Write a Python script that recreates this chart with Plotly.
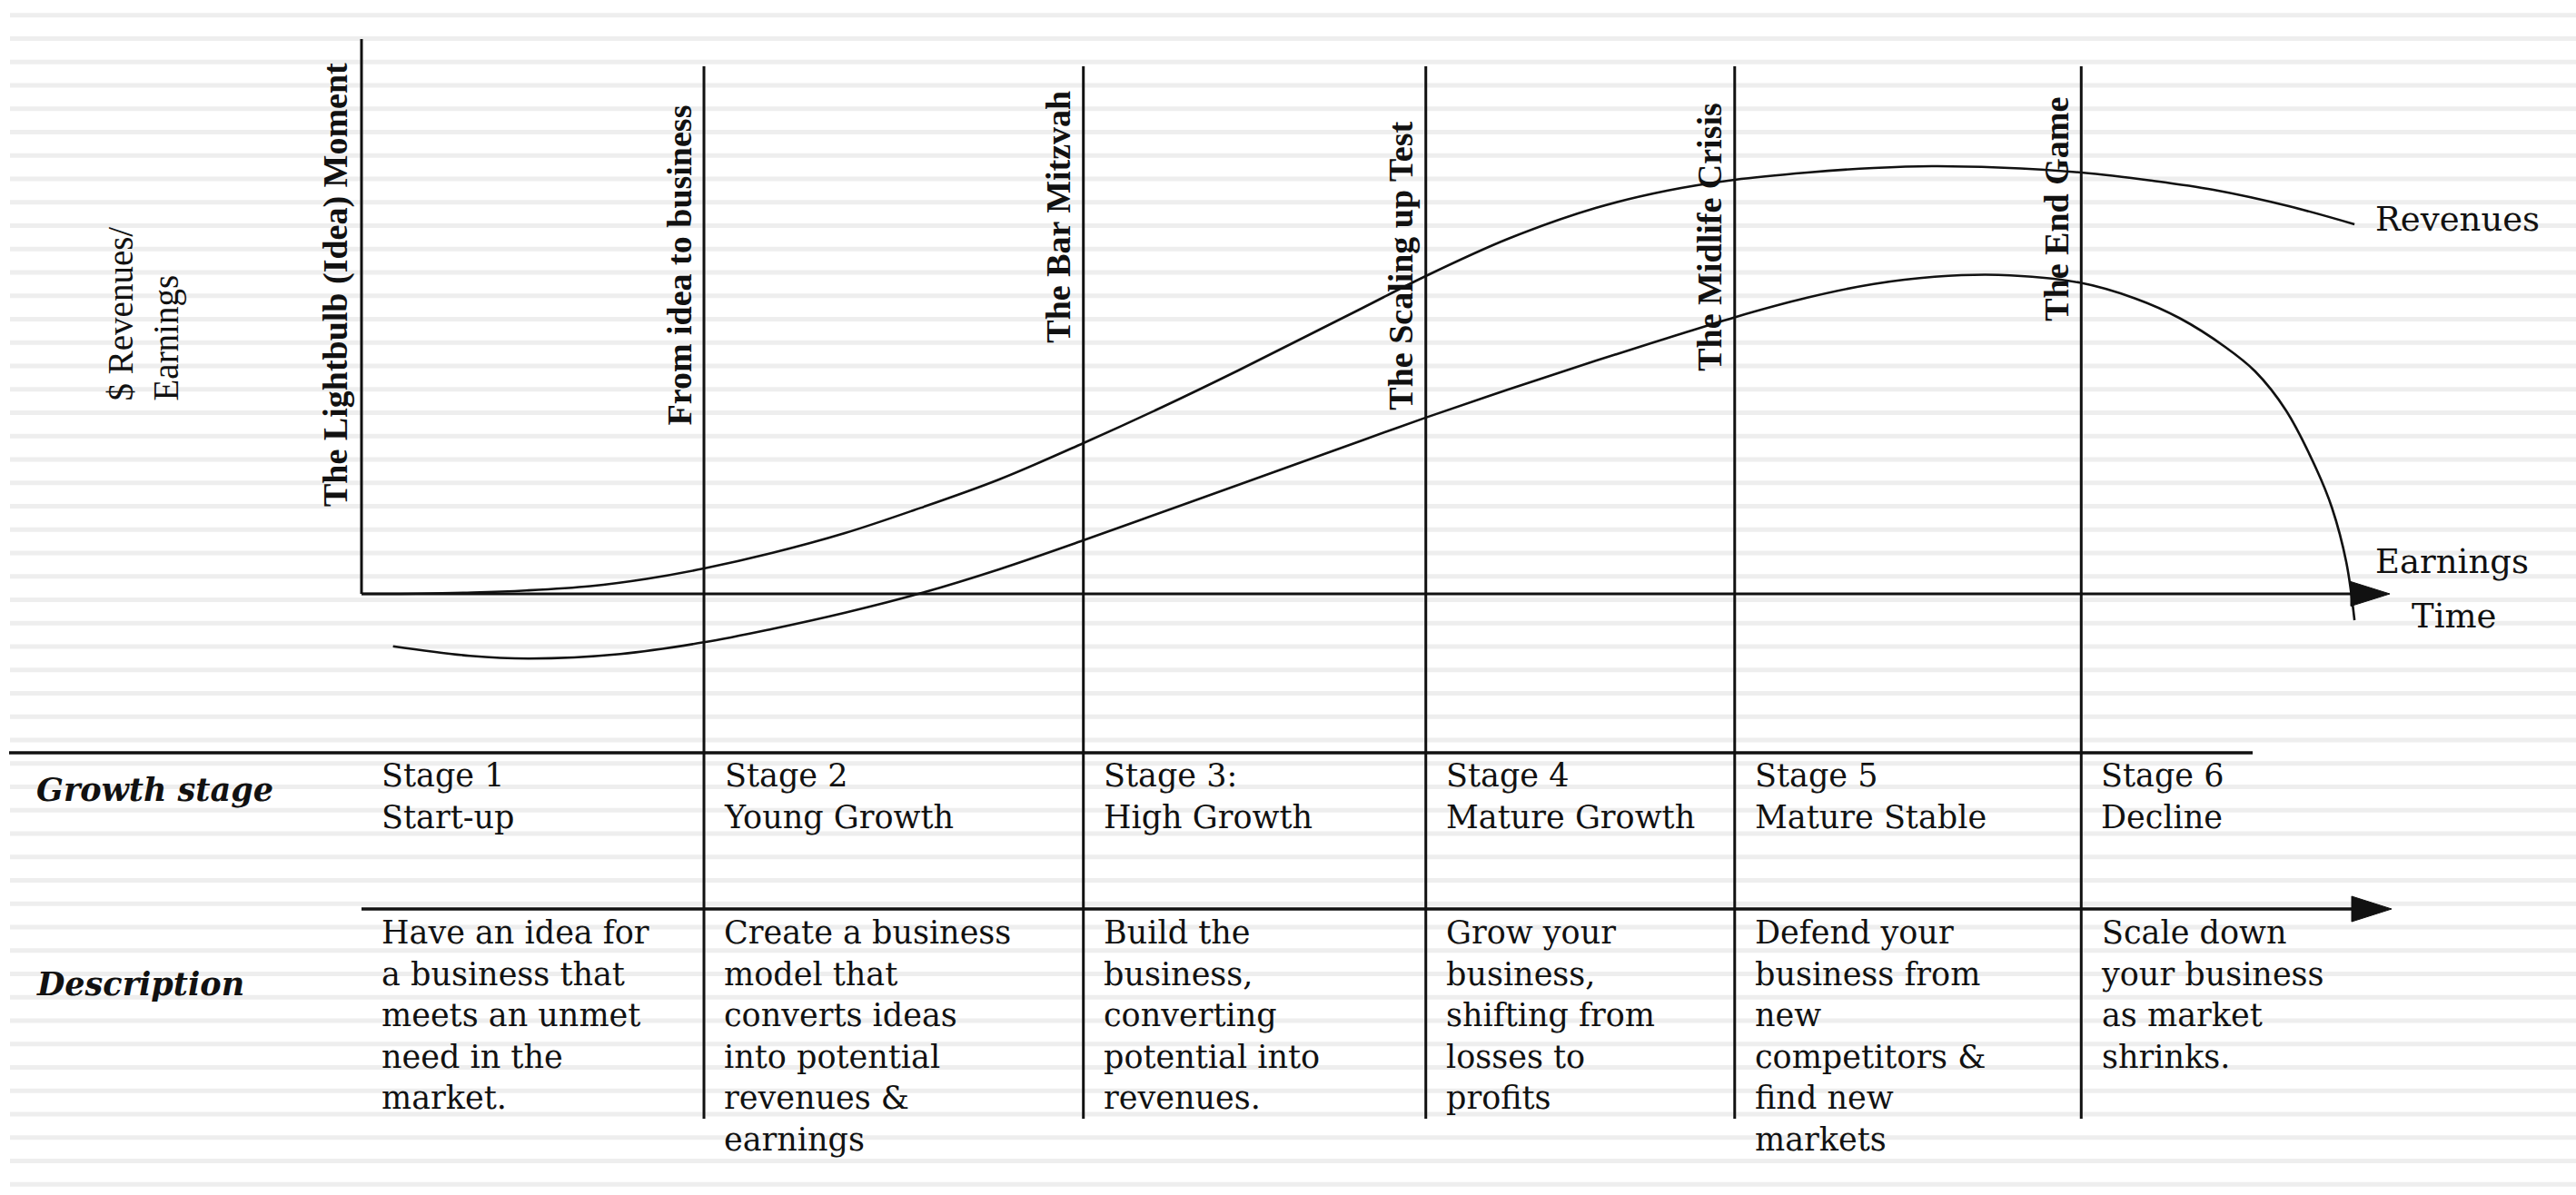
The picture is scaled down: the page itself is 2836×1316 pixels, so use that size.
import plotly.graph_objects as go

# ---------------- data ----------------
milestones = ["The Lightbulb (Idea) Moment", "From idea to business", "The Bar Mitzvah",
              "The Scaling up Test", "The Midlife Crisis", "The End Game"]
stage_bounds = [0, 5.0, 10.54, 15.54, 20.05, 25.11]   # time at which each stage starts

stage_names = ["Stage 1<br>Start-up", "Stage 2<br>Young Growth", "Stage 3:<br>High Growth",
               "Stage 4<br>Mature Growth", "Stage 5<br>Mature Stable", "Stage 6<br>Decline"]
descriptions = [
    "Have an idea for<br>a business that<br>meets an unmet<br>need in the<br>market.",
    "Create a business<br>model that<br>converts ideas<br>into potential<br>revenues &<br>earnings",
    "Build the<br>business,<br>converting<br>potential into<br>revenues.",
    "Grow your<br>business,<br>shifting from<br>losses to<br>profits",
    "Defend your<br>business from<br>new<br>competitors &<br>find new<br>markets",
    "Scale down<br>your business<br>as market<br>shrinks.",
]

time_rev = [0, 0.81, 1.62, 2.41, 3.34, 4.16, 5.00, 5.99, 7.06, 8.06, 9.31, 10.54, 11.70,
            12.80, 13.75, 14.62, 15.54, 16.74, 18.02, 19.06, 20.05, 21.11, 22.08, 22.93,
            23.90, 25.11, 26.15, 27.04, 28.14, 29.10]
revenues = [0, 0.06, 0.30, 0.80, 1.80, 3.49, 5.92, 9.51, 14.16, 19.45, 26.64, 35.10, 43.55,
            52.01, 59.62, 66.60, 74.00, 82.66, 89.85, 93.87, 96.41, 98.10, 99.15, 99.58,
            99.26, 98.10, 96.19, 94.08, 90.27, 86.05]

time_earn = [0.46, 1.58, 2.45, 3.78, 5.00, 5.99, 7.06, 8.13, 9.31, 10.54, 11.96, 13.29,
             14.62, 15.54, 16.74, 18.02, 19.06, 20.05, 21.11, 22.08, 22.97, 23.90, 25.09,
             25.89, 26.55, 27.21, 27.65, 28.10, 28.54, 28.77, 28.98, 29.10]
earnings = [-12.20, -14.42, -15.05, -14.00, -11.27, -8.18, -4.38, 0, 5.73, 12.47, 20.57,
            28.18, 35.79, 41.04, 47.55, 54.27, 59.51, 64.40, 68.96, 72.14, 73.83, 74.27,
            72.45, 68.82, 64.16, 57.51, 51.80, 42.71, 29.18, 20.08, 7.40, -6.13]

# ---------------- layout helpers ----------------
W, H = 2836, 1316
X0_PX, PX_PER_T = 398, 75.4
Y0_PX, PX_PER_V = 654, 4.73


def tx(px):
    return (px - X0_PX) / PX_PER_T


def vy(py):
    return (Y0_PX - py) / PX_PER_V


INK = "#111111"
SERIF_WIDE = "DejaVu Serif"
SERIF = "Liberation Serif"

fig = go.Figure()

fig.add_trace(go.Scatter(x=time_rev, y=revenues, mode="lines",
                         line=dict(color=INK, width=2.6, shape="spline", smoothing=1.0),
                         hoverinfo="skip", showlegend=False))
fig.add_trace(go.Scatter(x=time_earn, y=earnings, mode="lines",
                         line=dict(color=INK, width=2.6, shape="spline", smoothing=1.0),
                         hoverinfo="skip", showlegend=False))

shapes = []

# background ruled stripes
stripe_path = ""
yy = 16.7
while yy < H:
    py = 1 - yy / H
    stripe_path += f"M{11 / W},{py} L1,{py} "
    yy += 25.75
shapes.append(dict(type="path", xref="paper", yref="paper", path=stripe_path,
                   line=dict(color="#eeeeee", width=5), layer="below"))

# y-axis
shapes.append(dict(type="line", xref="x", yref="y", x0=0, x1=0, y0=0, y1=vy(43),
                   line=dict(color=INK, width=3)))
# stage boundary lines
for b in stage_bounds[1:]:
    shapes.append(dict(type="line", xref="x", yref="y", x0=b, x1=b, y0=vy(73), y1=vy(1232),
                       line=dict(color=INK, width=3)))
# time axis
shapes.append(dict(type="line", xref="x", yref="y", x0=0, x1=tx(2600), y0=0, y1=0,
                   line=dict(color=INK, width=3)))
shapes.append(dict(type="path", xref="x", yref="y", xsizemode="pixel", ysizemode="pixel",
                   xanchor=tx(2631), yanchor=0, path="M0,0 L-43,13.5 L-43,-13.5 Z",
                   fillcolor=INK, line=dict(color=INK, width=1)))
# table lines
shapes.append(dict(type="line", xref="x", yref="y", x0=tx(10), x1=tx(2480), y0=vy(829), y1=vy(829),
                   line=dict(color=INK, width=3.5)))
shapes.append(dict(type="line", xref="x", yref="y", x0=0, x1=tx(2600), y0=vy(1001), y1=vy(1001),
                   line=dict(color=INK, width=3.5)))
shapes.append(dict(type="path", xref="x", yref="y", xsizemode="pixel", ysizemode="pixel",
                   xanchor=tx(2633), yanchor=vy(1001), path="M0,0 L-44,14 L-44,-14 Z",
                   fillcolor=INK, line=dict(color=INK, width=1)))

annotations = []

# milestone (rotated) labels
label_bottom_px = [560, 471, 380, 454, 411, 356]
for name, b, bot in zip(milestones, stage_bounds, label_bottom_px):
    annotations.append(dict(text=name, x=b, y=vy(bot), xref="x", yref="y", xanchor="right",
                            yanchor="bottom", xshift=-5, textangle=-90, showarrow=False,
                            font=dict(family=SERIF, size=38, color=INK, weight="bold")))

# y-axis title
annotations.append(dict(text="$ Revenues/<br>Earnings", x=tx(108), y=vy(444), xref="x", yref="y",
                        xanchor="left", yanchor="bottom", textangle=-90, align="left",
                        showarrow=False, font=dict(family=SERIF, size=39, color=INK)))

# curve labels
annotations.append(dict(text="Revenues", x=tx(2613), y=vy(241), xref="x", yref="y",
                        xanchor="left", yanchor="middle", showarrow=False,
                        font=dict(family=SERIF_WIDE, size=37, color=INK)))
annotations.append(dict(text="Earnings", x=tx(2613), y=vy(618), xref="x", yref="y",
                        xanchor="left", yanchor="middle", showarrow=False,
                        font=dict(family=SERIF_WIDE, size=37, color=INK)))
annotations.append(dict(text="Time", x=tx(2653), y=vy(678), xref="x", yref="y",
                        xanchor="left", yanchor="middle", showarrow=False,
                        font=dict(family=SERIF_WIDE, size=37, color=INK)))

# table row headers
annotations.append(dict(text="Growth stage", x=tx(38), y=vy(869), xref="x", yref="y",
                        xanchor="left", yanchor="middle", showarrow=False,
                        font=dict(family=SERIF_WIDE, size=35, color=INK, weight="bold",
                                  style="italic")))
annotations.append(dict(text="Description", x=tx(38), y=vy(1083), xref="x", yref="y",
                        xanchor="left", yanchor="middle", showarrow=False,
                        font=dict(family=SERIF_WIDE, size=35, color=INK, weight="bold",
                                  style="italic")))

# table cells
for name, desc, b in zip(stage_names, descriptions, stage_bounds):
    annotations.append(dict(text=name, x=b, y=vy(832), xref="x", yref="y", xanchor="left",
                            yanchor="top", xshift=20, align="left", showarrow=False,
                            font=dict(family=SERIF_WIDE, size=35, color=INK)))
    annotations.append(dict(text=desc, x=b, y=vy(1005), xref="x", yref="y", xanchor="left",
                            yanchor="top", xshift=20, align="left", showarrow=False,
                            font=dict(family=SERIF_WIDE, size=35, color=INK)))

fig.update_layout(
    width=W, height=H, autosize=False,
    margin=dict(l=0, r=0, t=0, b=0),
    paper_bgcolor="white", plot_bgcolor="rgba(0,0,0,0)",
    xaxis=dict(range=[tx(0), tx(W)], visible=False, fixedrange=True),
    yaxis=dict(range=[vy(H), vy(0)], visible=False, fixedrange=True),
    shapes=shapes, annotations=annotations, showlegend=False,
)

fig.write_html("out.html", config={"displayModeBar": False})
